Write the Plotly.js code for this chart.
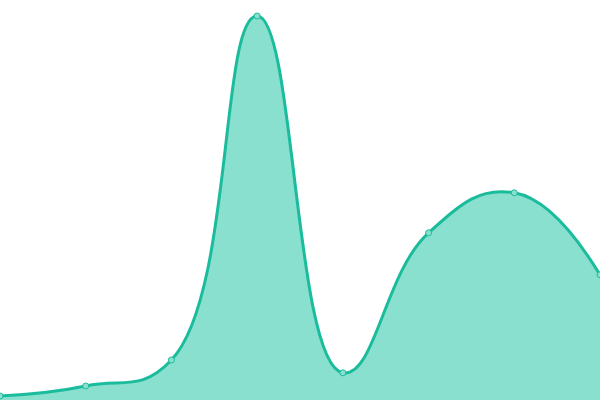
<!DOCTYPE html>
<html>
<head>
<meta charset="utf-8">
<script src="https://cdn.plot.ly/plotly-3.0.1.min.js"></script>
<style>
  html, body { margin: 0; padding: 0; background: #fff; }
  #chart { width: 600px; height: 400px; }
</style>
</head>
<body>
<div id="chart"></div>
<script>
/* spline area with markers, no axes */
const xs = [0, 1, 2, 3, 4, 5, 6, 7];
const values = [1, 3.5, 10, 96, 6.8, 41.8, 51.8, 31.3];

const LINE = '#1abc9c';
const FILL = '#8ae0ce';

const trace = {
  type: 'scatter',
  mode: 'lines+markers',
  x: xs,
  y: values,
  fill: 'tozeroy',
  fillcolor: FILL,
  line: { color: LINE, width: 3, shape: 'spline', smoothing: 1.3 },
  marker: { size: 6, color: '#8ae0ce', line: { color: LINE, width: 1 } },
  cliponaxis: false,
  hoverinfo: 'none',
};

const layout = {
  width: 600,
  height: 400,
  margin: { t: 0, r: 0, b: 0, l: 0 },
  paper_bgcolor: '#fff',
  plot_bgcolor: '#fff',
  showlegend: false,
  xaxis: { range: [0, 7], visible: false, fixedrange: true },
  yaxis: { range: [0, 100], visible: false, fixedrange: true },
};

Plotly.newPlot('chart', [trace], layout, { displayModeBar: false, staticPlot: true });
</script>
</body>
</html>
